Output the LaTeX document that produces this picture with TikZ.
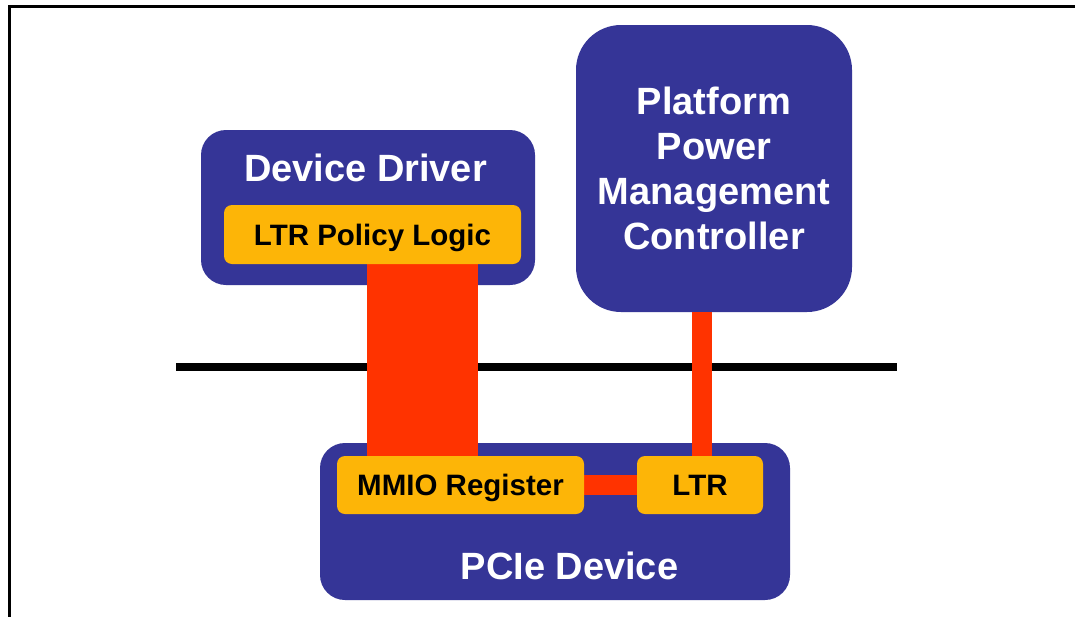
\documentclass[tikz,border=0pt]{standalone}
\usepackage{fontspec}
\setmainfont{Liberation Sans}
\definecolor{boxblue}{RGB}{53,53,151}
\definecolor{regorange}{RGB}{253,181,7}
\definecolor{linkred}{RGB}{255,51,0}
\pgfdeclarelayer{boxes}
\pgfdeclarelayer{links}
\pgfsetlayers{boxes,links,main}
\tikzset{
  outerbox/.style={rectangle, fill=boxblue, draw=none, rounded corners=25pt, inner sep=0pt},
  regbox/.style={rectangle, fill=regorange, draw=none, rounded corners=8pt, inner sep=0pt,
    font=\fontsize{29.5}{34}\selectfont\bfseries, text=black,
    text height=21.2pt, text depth=0pt},
  whitelabel/.style={font=\fontsize{38}{45}\selectfont\bfseries, text=white, inner sep=0pt},
  titlelabel/.style={whitelabel, text height=27.2pt, text depth=0pt},
  link/.style={draw=linkred, line cap=butt},
}
\begin{document}
\begin{tikzpicture}[x=1pt,y=-1pt]
  \useasboundingbox (0,0) rectangle (1075,616);
  \begin{pgfonlayer}{boxes}
    \fill[white] (0,0) rectangle (1075,616);
    % page frame (runs off the right and bottom edges)
    \draw[line width=3pt] (9,620) -- (9,6) -- (1080,6);

    % host side
    \node[outerbox, minimum width=334pt, minimum height=155pt] (driver) at (368,207.5) {};
    \node[outerbox, rounded corners=45pt, minimum width=276pt, minimum height=287pt,
          whitelabel, align=center] (ppmc) at (714,168.5)
          {Platform\\Power\\Management\\Controller};

    % device side
    \node[outerbox, minimum width=470pt, minimum height=157pt] (pcie) at (555,521.5) {};

    % host/device boundary
    \coordinate (bndl) at (176,367);
    \coordinate (bndr) at (897,367);
    \draw[line width=8pt] (bndl) -- (bndr);
  \end{pgfonlayer}

  \node[titlelabel] (drivertitle) at (365.5,167.5) {Device Driver};
  \node[titlelabel] (pcietitle) at (569.5,566) {PCIe Device};

  % register nodes
  \node[regbox, minimum width=297pt, minimum height=59pt] (policy) at (372.5,234.5) {LTR Policy Logic};
  \node[regbox, minimum width=247pt, minimum height=58pt] (mmio) at (460.5,485) {MMIO Register};
  \node[regbox, minimum width=126pt, minimum height=58pt] (ltr) at (700,485) {LTR};

  % connectors
  \coordinate (barx) at (422.5,0);
  \coordinate (thinx) at (702,0);
  \begin{pgfonlayer}{links}
    \draw[link, line width=111pt] ([yshift=3pt]policy.south -| barx) -- ([yshift=-2pt]mmio.north -| barx);
    \draw[link, line width=20pt] (ppmc.south -| thinx) -- ([yshift=-2pt]ltr.north -| thinx);
    \draw[link, line width=20pt] (mmio.east) -- (ltr.west);
  \end{pgfonlayer}
\end{tikzpicture}
\end{document}
